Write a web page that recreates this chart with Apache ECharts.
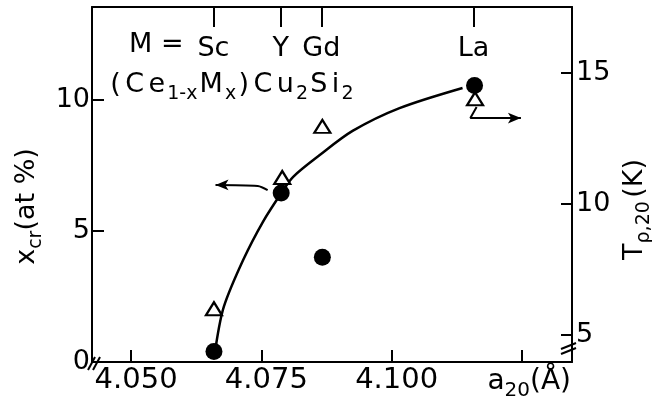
<!DOCTYPE html>
<html><head><meta charset="utf-8">
<script src="https://cdn.jsdelivr.net/npm/echarts@6/dist/echarts.min.js"></script>
<style>html,body{margin:0;padding:0;background:#fff;overflow:hidden}#c{width:652px;height:407px}</style>
</head><body><div id="c"></div>
<script>
// ---- data ----
const xTicks = [4.050, 4.075, 4.100, 4.125];
const xLabels = ['4.050', '4.075', '4.100', ''];
const leftTicks = [0, 5, 10];
const rightTicks = [5, 10, 15];
const elements = ['Sc', 'Y', 'Gd', 'La'];
const elementA = [4.0658, 4.0787, 4.0865, 4.1157];
// x_cr (at %) vs a20 — filled circles, left axis
const circleA = [4.0659, 4.0788, 4.0867, 4.1159];
const circleX = [0.4, 6.45, 4.0, 10.55];
// T_rho,20 (K) vs a20 — open triangles, right axis
const triA = [4.0659, 4.0790, 4.0867, 4.1160];
const triT = [6.0, 11.0, 12.95, 14.0];
// guide curve through x_cr points
const curveA = [4.0663, 4.0678, 4.0715, 4.0753, 4.0788, 4.0811, 4.0862, 4.0925, 4.1015, 4.1136];
const curveX = [0.65, 2.11, 3.89, 5.35, 6.44, 7.07, 7.90, 8.82, 9.69, 10.46];
// annotation arrows (left axis units)
const arrowLeftA = [4.0762, 4.0743, 4.0662];
const arrowLeftX = [6.56, 6.72, 6.76];
const arrowRightA = [4.1163, 4.1151, 4.1248];
const arrowRightX = [9.73, 9.31, 9.31];

const FONT = 'DejaVu Sans';
const chart = echarts.init(document.getElementById('c'), null, {width: 652, height: 407});
const zip = (a, b) => a.map((v, i) => [v, b[i]]);
const arrowData = (a, b, rot) => a.map((v, i) => i === a.length - 1
  ? {value: [v, b[i]], symbol: 'arrow', symbolSize: [8, 13], symbolRotate: rot}
  : {value: [v, b[i]], symbol: 'none'});

const axisLine = {show: true, lineStyle: {color: '#000', width: 2}};
const tickStyle = {color: '#000', width: 2};
const labelFont = {color: '#000', fontFamily: FONT, fontSize: 27};
const richName = {m: {fontFamily: FONT, fontSize: 27, color: '#000', lineHeight: 38},
                  s: {fontFamily: FONT, fontSize: 19, color: '#000', lineHeight: 19, verticalAlign: 'bottom'}};

chart.setOption({
  animation: false,
  backgroundColor: '#fff',
  grid: {left: 92, right: 80, top: 7, bottom: 45, containLabel: false, outerBoundsMode: 'none'},
  xAxis: [{
    type: 'value', min: 4.0425, max: 4.1346, position: 'bottom',
    axisLine: axisLine, splitLine: {show: false},
    axisTick: {show: true, inside: true, length: 12, lineStyle: tickStyle, customValues: xTicks},
    axisLabel: Object.assign({}, labelFont, {fontSize: 29, margin: 4, padding: [0, 0, 0, 10], customValues: xTicks,
      formatter: v => { const i = xTicks.findIndex(t => Math.abs(t - v) < 1e-6); return i >= 0 ? xLabels[i] : ''; }}),
    name: '{m|a}{s|20}{m|(Å)}', nameLocation: 'end', nameGap: -1,
    nameTextStyle: {align: 'right', verticalAlign: 'top', padding: [1, 0, 0, 0],
      rich: {m: {fontFamily: FONT, fontSize: 28, color: '#000', lineHeight: 38},
             s: {fontFamily: FONT, fontSize: 20, color: '#000', lineHeight: 20, verticalAlign: 'bottom'}}}
  }, {
    type: 'value', min: 4.0425, max: 4.1346, position: 'top',
    axisLine: axisLine, splitLine: {show: false},
    axisTick: {show: true, inside: true, length: 20, lineStyle: tickStyle, customValues: elementA},
    axisLabel: Object.assign({inside: true, margin: 28, customValues: elementA,
      formatter: v => { const i = elementA.findIndex(t => Math.abs(t - v) < 1e-6); return i >= 0 ? elements[i] : ''; }}, labelFont)
  }],
  yAxis: [{
    type: 'value', min: 0, max: 13.55, position: 'left',
    axisLine: axisLine, splitLine: {show: false},
    axisTick: {show: true, inside: true, length: 12, lineStyle: tickStyle, customValues: leftTicks},
    axisLabel: Object.assign({margin: 2, customValues: leftTicks}, labelFont),
    name: '{m|x}{s|cr}{m|(at %)}', nameLocation: 'middle', nameGap: 46, nameRotate: 90, nameMoveOverlap: false,
    nameTextStyle: {padding: [0, 44, 0, 0], rich: richName}
  }, {
    type: 'value', min: 3.97, max: 17.5, position: 'right',
    axisLine: axisLine, splitLine: {show: false},
    axisTick: {show: true, inside: true, length: 11, lineStyle: tickStyle, customValues: rightTicks},
    axisLabel: Object.assign({margin: 4, customValues: rightTicks}, labelFont),
    name: '{m|T}{s|ρ,20} {m|(K)}', nameLocation: 'middle', nameGap: 40, nameRotate: 90,
    nameTextStyle: {padding: [0, 50, 0, 0], rich: richName}
  }],
  series: [
    {type: 'line', xAxisIndex: 0, yAxisIndex: 0, data: zip(curveA, curveX), smooth: 0.3,
     showSymbol: false, lineStyle: {color: '#000', width: 2.5}, z: 2},
    {type: 'line', xAxisIndex: 0, yAxisIndex: 0, data: arrowData(arrowLeftA, arrowLeftX, 90), smooth: 0.3,
     lineStyle: {color: '#000', width: 2}, itemStyle: {color: '#000', opacity: 1}, z: 2},
    {type: 'line', xAxisIndex: 0, yAxisIndex: 0, data: arrowData(arrowRightA, arrowRightX, -90),
     lineStyle: {color: '#000', width: 2}, itemStyle: {color: '#000', opacity: 1}, z: 2},
    {type: 'scatter', xAxisIndex: 0, yAxisIndex: 0, data: zip(circleA, circleX), symbol: 'circle',
     symbolSize: 17, itemStyle: {color: '#000', opacity: 1}, z: 4},
    {type: 'scatter', xAxisIndex: 0, yAxisIndex: 1, data: zip(triA, triT), symbol: 'triangle',
     symbolSize: [16, 13], itemStyle: {color: '#fff', borderColor: '#000', borderWidth: 2.2, opacity: 1}, z: 5}
  ],
  graphic: [
    {type: 'text', left: 129, top: 31, style: {text: 'M =', font: '27px "DejaVu Sans"', fill: '#000'}},
    {type: 'text', left: 108, top: 71, style: {
      text: '{m|(}{m|C}{m|e}{s|1-x}{m|M}{s|x}{m|)}{m|C}{m|u}{s|2}{m|S}{m|i}{s|2}',
      rich: {m: {fontFamily: FONT, fontSize: 27, fill: '#000', lineHeight: 38, padding: [0, 2.2, 0, 2.2]},
             s: {fontFamily: FONT, fontSize: 19, fill: '#000', lineHeight: 19, verticalAlign: 'bottom'}}}},
    {type: 'line', shape: {x1: 88, y1: 370, x2: 95, y2: 357}, style: {stroke: '#000', lineWidth: 2}},
    {type: 'line', shape: {x1: 93, y1: 370, x2: 100, y2: 357}, style: {stroke: '#000', lineWidth: 2}},
    {type: 'line', shape: {x1: 561, y1: 349, x2: 576, y2: 343}, style: {stroke: '#000', lineWidth: 2}},
    {type: 'line', shape: {x1: 561, y1: 354, x2: 576, y2: 348}, style: {stroke: '#000', lineWidth: 2}}
  ]
});
</script></body></html>
